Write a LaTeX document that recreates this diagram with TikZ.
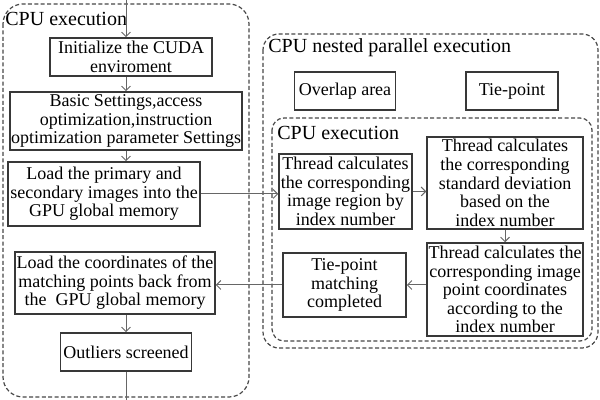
\documentclass[tikz,border=0pt]{standalone}
\usepackage{fontspec}
\setmainfont{Liberation Serif}
\usetikzlibrary{arrows.meta,positioning}

\begin{document}
\begin{tikzpicture}[x=0.5pt,y=-0.5pt,
		font=\rmfamily\fontsize{9}{9.3}\selectfont,
		Node/.style={rectangle,draw=black!78,line width=0.75pt,align=center,inner sep=0.5pt},
		Group/.style={draw=black!72,dash pattern=on 2pt off 1.2pt,line width=0.6pt,rounded corners=10pt},
		Label/.style={anchor=west,inner sep=1pt,font=\rmfamily\fontsize{10}{11}\selectfont},
		Arrow/.style={-{Straight Barb[length=2.2pt,width=4.4pt]},black!60,line width=0.5pt}]
		\useasboundingbox (0,0) rectangle (600,400);
		% groups
		\draw[Group] (3,4) rectangle (249,397);
		\draw[Group,rounded corners=8pt] (263,34) rectangle (598,348);
		\draw[Group,rounded corners=6pt] (272,118) rectangle (592,341);
		\node[Label] (LeftLbl) at (3,19) {CPU execution};
		\node[Label] (NestLbl) at (266,48) {CPU nested parallel execution};
		\node[Label] (InnerLbl) at (275,133) {CPU execution};
		% nodes
		\node[Node,minimum width=81pt,minimum height=19pt] (Init) at (131,57) {Initialize the CUDA\\enviroment};
		\node[Node,minimum width=116pt,minimum height=29pt] (Basic) at (126,121) {Basic Settings,access\\optimization,instruction\\optimization parameter Settings};
		\node[Node,minimum width=96pt,minimum height=32pt] (LoadImg) at (104,194) {Load the primary and\\secondary images into the\\GPU global memory};
		\node[Node,minimum width=100pt,minimum height=31pt] (LoadPts) at (115,283) {Load the coordinates of the\\matching points back from\\the\ \ GPU global memory};
		\node[Node,minimum width=65.5pt,minimum height=19pt] (Outlier) at (126,352) {Outliers screened};
		\node[Node,minimum width=50.5pt,minimum height=19pt] (Overlap) at (345,91) {Overlap area};
		\node[Node,minimum width=46pt,minimum height=19pt] (TiePt) at (512,91) {Tie-point};
		\node[Node,minimum width=66.5pt,minimum height=37.5pt] (Region) at (345.5,191.5) {Thread calculates\\the corresponding\\image region by\\index number};
		\node[Node,minimum width=78pt,minimum height=46pt] (StdDev) at (505,183) {Thread calculates\\the corresponding\\standard deviation\\based on the\\index number};
		\node[Node,minimum width=78pt,minimum height=46.5pt] (ImgPt) at (505,289.5) {Thread calculates the\\corresponding image\\point coordinates\\according to the\\index number};
		\node[Node,minimum width=61.5pt,minimum height=32pt] (Match) at (344.5,285) {Tie-point\\matching\\completed};
		\coordinate (Top) at (126,0);
		\coordinate (Bottom) at (126,400);
		% connections
		\draw[Arrow] (Top) -- (Top |- Init.north);
		\draw[Arrow] (Top |- Init.south) -- (Top |- Basic.north);
		\draw[Arrow] (Top |- Basic.south) -- (Top |- LoadImg.north);
		\draw[Arrow] (LoadImg.east) -- (LoadImg.east -| Region.west);
		\draw[Arrow] (Region.east) -- (Region.east -| StdDev.west);
		\draw[Arrow] (StdDev.south) -- (ImgPt.north);
		\draw[Arrow] (ImgPt.west |- Match.east) -- (Match.east);
		\draw[Arrow] (Match.west) -- (Match.west -| LoadPts.east);
		\draw[Arrow] (Top |- LoadPts.south) -- (Top |- Outlier.north);
		\draw[black!60,line width=0.5pt] (Top |- Outlier.south) -- (Bottom);
	\end{tikzpicture}
\end{document}
